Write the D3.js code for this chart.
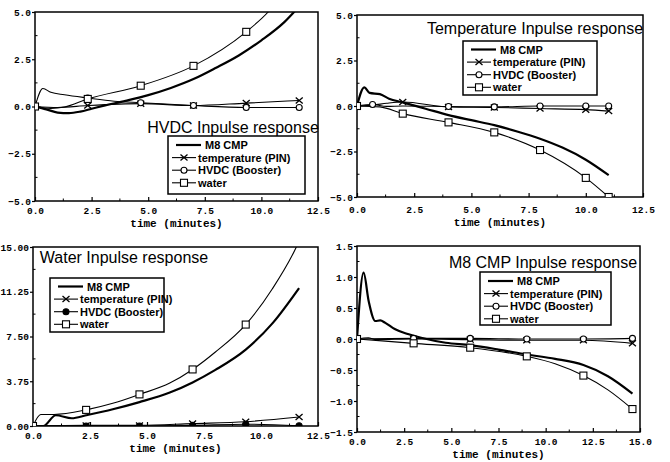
<!DOCTYPE html>
<html>
<head>
<meta charset="utf-8">
<script src="https://cdn.jsdelivr.net/npm/d3@7"></script>
<style>
  body { margin: 0; background: #fff; }
  svg { display: block; }
  .tick text { font-family: "Liberation Mono", "DejaVu Sans Mono", monospace; font-weight: bold; font-size: 9.5px; fill: #000; }
  .title { font-family: "Liberation Sans", Arial, sans-serif; font-size: 16px; }
  .legend text { font-family: "Liberation Sans", Arial, sans-serif; font-weight: bold; font-size: 11px; }
  .xlabel { font-family: "Liberation Mono", monospace; font-weight: bold; font-size: 11px; }
</style>
</head>
<body>
<svg></svg>
<script>
const width = 670;
const height = 462;

// series order in every panel / legend
const seriesNames = ['M8 CMP', 'temperature (PIN)', 'HVDC (Booster)', 'water'];
const seriesMarks = ['none', 'cross', 'circle', 'square'];

// [time, value, marker?]
// ---- HVDC impulse response ----
const hvdcM8 = [[0,0],[0.5,-0.15],[1,-0.32],[1.5,-0.35],[2,-0.27],[2.5,-0.12],[3,0.03],[4,0.3],[5,0.6],[6,0.98],[7,1.45],[8,2.05],[9,2.7],[10,3.5],[11,4.45],[11.67,5.3]];
const hvdcTemp = [[0,0,1],[1,-0.05],[2.33,0.05,1],[4.67,0.15,1],[7,0.05,1],[9.33,0.18,1],[11.67,0.32,1]];
const hvdcHvdc = [[0,0,1],[0.35,0.95],[0.7,0.75],[1.3,0.62],[2.33,0.45,1],[3.5,0.28],[4.67,0.2,1],[7,0.05,1],[9.33,-0.05,1],[11.67,-0.05,1]];
const hvdcWater = [[0,0,1],[0.7,-0.1],[1.3,-0.03],[2.33,0.4,1],[4.67,1.1,1],[7,2.15,1],[9.33,3.95,1],[10.3,5.0],[11.67,7.2,1]];

// ---- Temperature impulse response ----
const tempM8 = [[0,0],[0.32,1.02],[0.55,0.72],[1,0.65],[1.4,0.4],[2,0.2],[3,-0.15],[4,-0.5],[5,-0.78],[6,-1.05],[7,-1.4],[8,-1.8],[9,-2.3],[10,-2.95],[11,-3.8]];
const tempTemp = [[0,0,1],[0.7,0.05],[1.3,0.15],[2,0.22,1],[4,-0.05,1],[6,-0.08,1],[8,-0.14,1],[10,-0.2,1],[11,-0.28,1]];
const tempHvdc = [[0,0],[0.68,0.08,1],[1.3,-0.02],[2,0],[4,-0.03,1],[6,-0.05,1],[8,0,1],[10,0,1],[11,0,1]];
const tempWater = [[0,0,1],[1,-0.05],[2,-0.42,1],[4,-0.9,1],[6,-1.45,1],[8,-2.42,1],[10,-3.95,1],[11,-5.0,1]];

// ---- Water impulse response ----
const waterM8 = [[0,0],[0.45,0],[1,0.9],[1.7,0.65],[2.33,0.9],[3.5,1.4],[4.67,2.0],[6,2.8],[7,3.65],[8,4.7],[9.33,6.4],[10.5,8.6],[11.67,11.56]];
const waterTemp = [[0,0,1],[2.33,0.05,1],[4.67,0.05,1],[7,0.2,1],[9.33,0.36,1],[11.67,0.75,1]];
const waterHvdc = [[0,0,1],[2.33,0,1],[4.67,0,1],[7,0.05,1],[9.33,0.15,1],[11.67,0.02,1]];
const waterWater = [[0,0,1],[0.34,0.97],[0.92,0.97],[2.33,1.35,1],[3.5,1.9],[4.67,2.65,1],[6,3.6],[7,4.74,1],[8,6.2],[9.33,8.5,1],[10.5,11.5],[11.55,15],[11.67,15.5]];

// ---- M8 CMP impulse response ----
const m8M8 = [[0,0],[0.35,1.07],[0.62,0.61],[0.97,0.29],[1.23,0.3],[1.5,0.26],[2,0.16],[2.7,0.08],[3.4,0.02],[4.7,-0.06],[6,-0.1],[7.5,-0.17],[9,-0.25],[10.5,-0.32],[12,-0.42],[13.3,-0.6],[14.6,-0.88]];
const m8Temp = [[0,0,1],[0.6,0.02],[1,-0.01],[3,0,1],[6,-0.01,1],[9,-0.02,1],[12,-0.02,1],[14.6,-0.07,1]];
const m8Hvdc = [[0,0,1],[3,0.01,1],[6,0.01,1],[9,0,1],[12,0,1],[14.6,0.01,1]];
const m8Water = [[0,0,1],[3,-0.07,1],[6,-0.14,1],[9,-0.28,1],[10.5,-0.4],[12,-0.59,1],[13.3,-0.82],[14.6,-1.13,1]];

// tick values
const xTicks125 = [0, 2.5, 5, 7.5, 10, 12.5];
const xTicks15 = [0, 2.5, 5, 7.5, 10, 12.5, 15];
const yTicks5 = [-5, -2.5, 0, 2.5, 5];
const yTicks15 = [0, 3.75, 7.5, 11.25, 15];
const yTicks15b = [-1.5, -1, -0.5, 0, 0.5, 1, 1.5];

const svg = d3.select('svg')
  .attr('width', width)
  .attr('height', height);

const panels = [
  { id: 'p1', title: 'HVDC Inpulse response', series: [hvdcM8, hvdcTemp, hvdcHvdc, hvdcWater],
    xDomain: [0, 12.5], yDomain: [-5, 5], xTicks: xTicks125, yTicks: yTicks5, yFmt: '.1f',
    l: 35, r: 318, t: 12, b: 201, lblOff: 6, xlabOff: 26,
    titleX: 233, titleY: 133, leg: [168, 136, 305, 194], row0: 9, rowH: 12.6, filled: false },
  { id: 'p2', title: 'Temperature Inpulse response', series: [tempM8, tempTemp, tempHvdc, tempWater],
    xDomain: [0, 12.5], yDomain: [-5, 5], xTicks: xTicks125, yTicks: yTicks5, yFmt: '.1f',
    l: 357, r: 643, t: 15, b: 197, lblOff: 9, xlabOff: 29,
    titleX: 535, titleY: 34, leg: [463, 41, 597, 95], row0: 8.5, rowH: 12.6, filled: false },
  { id: 'p3', title: 'Water Inpulse response', series: [waterM8, waterTemp, waterHvdc, waterWater],
    xDomain: [0, 12.5], yDomain: [0, 15], xTicks: xTicks125, yTicks: yTicks15, yFmt: '.2f',
    l: 33, r: 318, t: 247, b: 426, lblOff: 6, xlabOff: 26,
    titleX: 124, titleY: 263, leg: [50, 278, 164, 332], row0: 8.5, rowH: 12.6, filled: true },
  { id: 'p4', title: 'M8 CMP Inpulse response', series: [m8M8, m8Temp, m8Hvdc, m8Water],
    xDomain: [0, 15], yDomain: [-1.5, 1.5], xTicks: xTicks15, yTicks: yTicks15b, yFmt: '.1f',
    l: 357, r: 640, t: 246, b: 432, lblOff: 6, xlabOff: 26,
    titleX: 543, titleY: 268, leg: [480, 272, 611, 325], row0: 9, rowH: 12.6, filled: false }
];

function drawMarker(g, type, cx, cy, filled) {
  if (type === 'square') {
    g.append('rect').attr('x', cx - 3.5).attr('y', cy - 3.5).attr('width', 7).attr('height', 7)
      .attr('fill', '#fff').attr('stroke', '#000').attr('stroke-width', 1.1);
  } else if (type === 'circle') {
    g.append('circle').attr('cx', cx).attr('cy', cy).attr('r', 3)
      .attr('fill', filled ? '#000' : '#fff').attr('stroke', '#000').attr('stroke-width', 1.1);
  } else if (type === 'cross') {
    g.append('path').attr('d', `M${cx-3.5},${cy-3}L${cx+3.5},${cy+3}M${cx-3.5},${cy+3}L${cx+3.5},${cy-3}`)
      .attr('stroke', '#000').attr('stroke-width', 1.3);
  }
}

panels.forEach(p => {
  const x = d3.scaleLinear().domain(p.xDomain).range([p.l, p.r]);
  const y = d3.scaleLinear().domain(p.yDomain).range([p.b, p.t]);
  const g = svg.append('g');

  g.append('clipPath').attr('id', 'clip-' + p.id)
    .append('rect').attr('x', p.l).attr('y', p.t).attr('width', p.r - p.l).attr('height', p.b - p.t);

  // axes
  const xAxis = d3.axisBottom(x).tickValues(p.xTicks).tickFormat(d3.format('.1f'))
    .tickSize(-4).tickPadding(p.lblOff);
  const yAxis = d3.axisLeft(y).tickValues(p.yTicks).tickFormat(d3.format(p.yFmt))
    .tickSize(3).tickPadding(1);

  const gx = g.append('g').attr('transform', `translate(0,${p.b})`).call(xAxis);
  const gy = g.append('g').attr('transform', `translate(${p.l},0)`).call(yAxis);
  gx.select('.domain').remove();
  gy.select('.domain').remove();
  g.selectAll('.tick line').attr('stroke', '#000').attr('stroke-width', 1.2);

  // minor ticks
  const xStep = p.xTicks[1] - p.xTicks[0];
  const yStep = p.yTicks[1] - p.yTicks[0];
  g.append('g').selectAll('line')
    .data(p.xTicks.slice(0, -1).map(d => d + xStep / 2))
    .join('line')
    .attr('x1', d => x(d)).attr('x2', d => x(d))
    .attr('y1', p.b).attr('y2', p.b - 2.5)
    .attr('stroke', '#000');
  g.append('g').selectAll('line')
    .data(p.yTicks.slice(0, -1).map(d => d + yStep / 2))
    .join('line')
    .attr('x1', p.l).attr('x2', p.l + 2.5)
    .attr('y1', d => y(d)).attr('y2', d => y(d))
    .attr('stroke', '#000');

  // frame
  g.append('rect')
    .attr('x', p.l).attr('y', p.t)
    .attr('width', p.r - p.l).attr('height', p.b - p.t)
    .attr('fill', 'none').attr('stroke', '#000').attr('stroke-width', 1.5);

  g.append('text').attr('class', 'xlabel')
    .attr('x', (p.l + p.r) / 2).attr('y', p.b + p.xlabOff)
    .attr('text-anchor', 'middle')
    .text('time (minutes)');

  // lines
  const line = d3.line().x(d => x(d[0])).y(d => y(d[1])).curve(d3.curveMonotoneX);
  const plot = g.append('g').attr('clip-path', `url(#clip-${p.id})`);
  p.series.forEach((s, i) => {
    plot.append('path').datum(s)
      .attr('d', line)
      .attr('fill', 'none')
      .attr('stroke', '#000')
      .attr('stroke-width', i === 0 ? 2.2 : 1.1);
  });
  p.series.forEach((s, i) => {
    s.filter(d => d[2]).forEach(d => {
      if (y(d[1]) >= p.t - 1 && y(d[1]) <= p.b + 1) drawMarker(plot, seriesMarks[i], x(d[0]), y(d[1]), p.filled);
    });
  });

  // title
  g.append('text').attr('class', 'title')
    .attr('x', p.titleX).attr('y', p.titleY)
    .attr('text-anchor', 'middle')
    .text(p.title);

  // legend
  const [lx0, ly0, lx1, ly1] = p.leg;
  const lg = g.append('g').attr('class', 'legend');
  lg.append('rect').attr('x', lx0).attr('y', ly0).attr('width', lx1 - lx0).attr('height', ly1 - ly0)
    .attr('fill', '#fff').attr('stroke', '#000').attr('stroke-width', 1.5);
  seriesNames.forEach((name, i) => {
    const cy = ly0 + p.row0 + i * p.rowH;
    lg.append('line')
      .attr('x1', lx0 + (i === 0 ? 8 : 4)).attr('x2', lx0 + (i === 0 ? 33 : 28))
      .attr('y1', cy).attr('y2', cy)
      .attr('stroke', '#000').attr('stroke-width', i === 0 ? 2.2 : 1.1);
    drawMarker(lg, seriesMarks[i], lx0 + 16, cy, p.filled);
    lg.append('text')
      .attr('x', lx0 + (i === 0 ? 37 : 30)).attr('y', cy + 4)
      .text(name);
  });
});
</script>
</body>
</html>
